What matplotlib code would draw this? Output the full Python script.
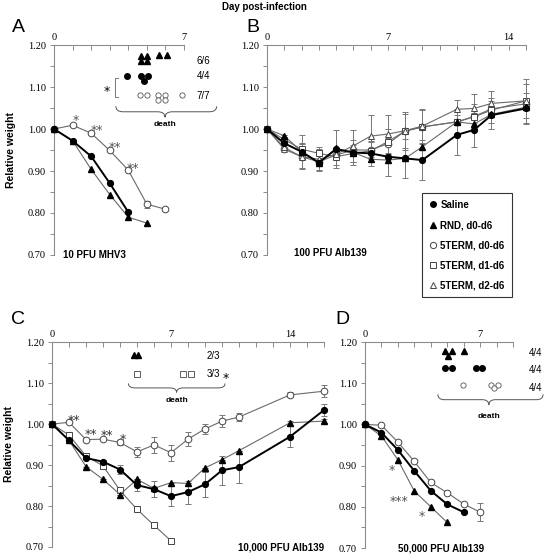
import numpy as np
import matplotlib
matplotlib.use("Agg")
import matplotlib.pyplot as plt
from matplotlib.path import Path
from matplotlib.patches import PathPatch
from matplotlib.lines import Line2D

# ---------------- data ----------------
# panel A: 10 PFU MHV3
daysA = [0, 1, 2, 3, 4, 5, 6]
A_saline = [1.00, 0.972, 0.935, 0.871, 0.802]
A_rnd = [1.00, 0.972, 0.904, 0.844, 0.790, 0.776]
A_5t0 = [1.00, 1.009, 0.990, 0.949, 0.902, 0.821, 0.809]
A_5t0_err = [0, 0, 0, 0, 0, 0.008, 0]

# panel B: 100 PFU Alb139
daysB = [0, 1, 2, 3, 4, 5, 6, 7, 8, 9, 11, 12, 13, 15]
B_saline = [1.00, 0.966, 0.946, 0.920, 0.952, 0.944, 0.942, 0.934, 0.930, 0.926, 0.986, 0.998, 1.033, 1.049]
B_rnd = [1.00, 0.984, 0.946, 0.918, 0.954, 0.944, 0.928, 0.926, 0.930, 0.958, 1.017, 1.012, 1.035, 1.052]
B_5t0 = [1.00, 0.952, 0.934, 0.922, 0.938, 0.950, 0.950, 0.965, 0.995, 1.005, 1.017, 1.030, 1.048, 1.060]
B_5t1 = [1.00, 0.975, 0.952, 0.942, 0.934, 0.942, 0.948, 0.970, 0.995, 1.005, 1.017, 1.029, 1.045, 1.067]
B_5t2 = [1.00, 0.956, 0.934, 0.928, 0.940, 0.960, 0.983, 0.988, 0.996, 1.007, 1.047, 1.049, 1.061, 1.067]
B_saline_err = [0, 0.02, 0.04, 0.02, 0.045, 0.03, 0.03, 0.045, 0.047, 0.047, 0.048, 0.04, 0.033, 0.037]
B_5t2_err = [0, 0.01, 0.03, 0.025, 0.01, 0.038, 0.05, 0.045, 0.045, 0.04, 0.022, 0.034, 0.029, 0.053]
B_5t1_err = [0, 0.01, 0.015, 0.015, 0.02, 0.02, 0.02, 0.03, 0.04, 0.04, 0.03, 0.03, 0.03, 0.04]

# panel C: 10,000 PFU Alb139
daysC = [0, 1, 2, 3, 4, 5, 6, 7, 8, 9, 10, 11, 14, 16]
C_saline = [1.00, 0.960, 0.917, 0.908, 0.889, 0.851, 0.841, 0.824, 0.834, 0.853, 0.887, 0.895, 0.969, 1.034]
C_rnd = [1.00, 0.960, 0.896, 0.865, 0.828, 0.865, 0.843, 0.857, 0.855, 0.893, 0.913, 0.935, 1.003, 1.007]
C_5t0 = [1.00, 1.004, 0.962, 0.963, 0.955, 0.932, 0.949, 0.930, 0.963, 0.988, 1.007, 1.017, 1.071, 1.080]
C_5t1 = [1.00, 0.973, 0.922, 0.898, 0.838, 0.792, 0.753, 0.715]
C_saline_err = [0, 0, 0, 0.003, 0.01, 0.015, 0.02, 0.025, 0.028, 0.03, 0.035, 0.04, 0.026, 0.015]
C_rnd_err = [0, 0, 0, 0, 0, 0, 0, 0, 0, 0, 0, 0, 0.005, 0.005]
C_5t0_err = [0, 0, 0, 0, 0.005, 0.012, 0.02, 0.02, 0.017, 0.012, 0.015, 0.01, 0.006, 0.015]

# panel D: 50,000 PFU Alb139
daysD = [0, 1, 2, 3, 4, 5, 6, 7]
D_saline = [1.00, 0.980, 0.938, 0.887, 0.839, 0.806, 0.787]
D_rnd = [1.00, 0.972, 0.914, 0.838, 0.800, 0.762]
D_5t0 = [1.00, 0.998, 0.957, 0.910, 0.859, 0.834, 0.807, 0.787]
D_5t0_err = [0, 0, 0, 0, 0, 0, 0, 0.022]

# deaths (day, row height)
A_dead_rnd = [(4.66, 1.174), (5.02, 1.174), (4.66, 1.161), (5.02, 1.161), (5.66, 1.176), (6.06, 1.176)]
A_dead_sal = [(3.91, 1.126), (4.66, 1.126), (5.07, 1.126), (4.86, 1.115)]
A_dead_5t0 = [(4.64, 1.080), (5.0, 1.080), (5.6, 1.082), (5.95, 1.082), (5.6, 1.068), (5.95, 1.068), (6.9, 1.080)]
C_dead_rnd = [(4.84, 1.168), (5.08, 1.168)]
C_dead_5t1 = [(5.0, 1.122), (7.72, 1.122), (8.2, 1.122)]
D_dead_rnd = [(4.86, 1.178), (5.3, 1.178), (5.06, 1.166), (6.02, 1.178)]
D_dead_sal = [(4.86, 1.136), (5.3, 1.136), (6.73, 1.136), (7.13, 1.136)]
D_dead_5t0 = [(5.98, 1.096), (7.64, 1.096), (8.09, 1.096), (7.85, 1.088)]

legend_labels = ["Saline", "RND, d0-d6", "5TERM, d0-d6", "5TERM, d1-d6", "5TERM, d2-d6"]

# ---------------- style ----------------
W, H = 544, 555
GRAY = "#6a6a6a"
SPINE = "#8c8c8c"
SANS = "Liberation Sans"
SERIF = "Liberation Serif"

fig = plt.figure(figsize=(W / 100, H / 100), dpi=100)


def box(l, r, t, b):
    return fig.add_axes([l / W, 1 - b / H, (r - l) / W, (b - t) / H])


def setup(ax, xmax, labels):
    ax.set_xlim(0, xmax)
    ax.set_ylim(0.70, 1.20)
    for s in ["bottom", "right"]:
        ax.spines[s].set_visible(False)
    for s in ["top", "left"]:
        ax.spines[s].set_color(SPINE)
        ax.spines[s].set_linewidth(0.8)
    ax.xaxis.tick_top()
    ax.set_xticks(labels)
    ax.set_xticklabels([str(v) for v in labels])
    ax.set_xticks(range(0, xmax + 1), minor=True)
    ax.set_yticks(np.arange(0.70, 1.201, 0.10))
    ax.set_yticklabels(["%.2f" % v for v in np.arange(0.70, 1.201, 0.10)])
    ax.set_yticks(np.arange(0.75, 1.2, 0.10), minor=True)
    ax.tick_params(axis="x", which="both", direction="in", color=SPINE, length=3.5, width=0.7,
                   pad=2, labelsize=7.5, labelfontfamily=SERIF)
    ax.tick_params(axis="y", which="both", direction="out", color=SPINE, length=3, width=0.7,
                   pad=3, labelsize=7.5, labelfontfamily=SERIF)
    ax.patch.set_alpha(0)


def series(ax, x, y, kind, err=None):
    x = x[:len(y)]
    if kind == "sal":
        kw = dict(color="black", lw=1.4, marker="o", ms=4.2, mfc="black", mec="black", zorder=5)
    elif kind == "rnd":
        kw = dict(color=GRAY, lw=0.8, marker="^", ms=4.8, mfc="black", mec="black", zorder=4)
    elif kind == "t0":
        kw = dict(color=GRAY, lw=0.8, marker="o", ms=4.8, mfc="white", mec="#444444", mew=0.7, zorder=3)
    elif kind == "t1":
        kw = dict(color=GRAY, lw=0.8, marker="s", ms=4.8, mfc="white", mec="#444444", mew=0.7, zorder=3)
    else:
        kw = dict(color=GRAY, lw=0.8, marker="^", ms=5, mfc="white", mec="#444444", mew=0.7, zorder=3)
    if err is not None:
        ax.errorbar(x, y, yerr=err[:len(y)], fmt="none", ecolor="#777777", elinewidth=0.7,
                    capsize=2, capthick=0.7, zorder=2, clip_on=False)
    ax.plot(x, y, clip_on=False, **kw)


def deaths(ax, pts, kind):
    xs = [p[0] for p in pts]
    ys = [p[1] for p in pts]
    if kind == "rnd":
        kw = dict(marker="^", ms=4.5, mfc="black", mec="black")
    elif kind == "sal":
        kw = dict(marker="o", ms=4, mfc="black", mec="black")
    elif kind == "t0":
        kw = dict(marker="o", ms=3.8, mfc="white", mec="#555555", mew=0.6)
    else:
        kw = dict(marker="s", ms=4, mfc="white", mec="#444444", mew=0.6)
    ax.plot(xs, ys, ls="none", clip_on=False, **kw)


def brace(ax, x0, x1, xm, y, h, dx):
    verts = [(x0, y + h), (x0, y), (x0 + dx, y), (xm - dx, y), (xm, y), (xm, y - h),
             (xm, y), (xm + dx, y), (x1 - dx, y), (x1, y), (x1, y + h)]
    codes = [Path.MOVETO, Path.CURVE3, Path.CURVE3, Path.LINETO, Path.CURVE3, Path.CURVE3,
             Path.CURVE3, Path.CURVE3, Path.LINETO, Path.CURVE3, Path.CURVE3]
    ax.add_patch(PathPatch(Path(verts, codes), fc="none", ec="#555555", lw=0.7, clip_on=False))


def star(ax, x, y, s, color="#555555"):
    ax.text(x, y - 0.008, s, ha="center", va="center", fontsize=9, color=color,
            family="DejaVu Sans", clip_on=False)


def lab(ax, x, y, s, **kw):
    ax.text(x, y, s, va="center", fontsize=7, family=SANS, clip_on=False, **kw)


# ---------------- panel A ----------------
axA = box(54, 184, 45, 255)
setup(axA, 7, [0, 7])
series(axA, daysA, A_rnd, "rnd")
series(axA, daysA, A_saline, "sal")
series(axA, daysA, A_5t0, "t0", A_5t0_err)
deaths(axA, A_dead_rnd, "rnd")
deaths(axA, A_dead_sal, "sal")
deaths(axA, A_dead_5t0, "t0")
lab(axA, 7.67, 1.162, "6/6")
lab(axA, 7.67, 1.126, "4/4")
lab(axA, 7.67, 1.079, "7/7")
brace(axA, 3.33, 8.76, 5.98, 1.041, 0.013, 0.4)
axA.text(5.98, 1.010, "death", ha="center", va="center", fontsize=6, weight="bold", family=SANS)
axA.plot([3.42, 3.28, 3.28, 3.42], [1.121, 1.121, 1.076, 1.076], color="#777777", lw=0.7)
star(axA, 2.85, 1.098, "*", "black")
star(axA, 1.18, 1.029, "*")
star(axA, 2.31, 1.005, "**")
star(axA, 3.28, 0.964, "**")
star(axA, 4.25, 0.914, "**")
axA.text(0.5, 0.70, "10 PFU MHV3", va="center", fontsize=7, weight="bold", family=SANS)
axA.set_ylabel("Relative weight", fontsize=7.5, weight="bold", family=SANS, labelpad=8)

# ---------------- panel B ----------------
axB = box(267, 526, 45, 255)
setup(axB, 15, [0, 7, 14])
series(axB, daysB, B_5t0, "t0")
series(axB, daysB, B_5t1, "t1", B_5t1_err)
series(axB, daysB, B_5t2, "t2", B_5t2_err)
series(axB, daysB, B_rnd, "rnd")
series(axB, daysB, B_saline, "sal", B_saline_err)
axB.text(1.55, 0.705, "100 PFU Alb139", va="center", fontsize=7, weight="bold", family=SANS)

# ---------------- panel C ----------------
axC = box(52, 324, 342, 547)
setup(axC, 16, [0, 7, 14])
series(axC, daysC, C_5t1, "t1")
series(axC, daysC, C_rnd, "rnd", C_rnd_err)
series(axC, daysC, C_saline, "sal", C_saline_err)
series(axC, daysC, C_5t0, "t0", C_5t0_err)
deaths(axC, C_dead_rnd, "rnd")
deaths(axC, C_dead_5t1, "t1")
lab(axC, 9.1, 1.166, "2/3")
lab(axC, 9.1, 1.122, "3/3")
star(axC, 10.25, 1.118, "*", "black")
brace(axC, 4.49, 10.18, 7.33, 1.088, 0.011, 0.4)
axC.text(7.33, 1.057, "death", ha="center", va="center", fontsize=6, weight="bold", family=SANS)
star(axC, 1.29, 1.016, "**", "#333333")
star(axC, 2.28, 0.983, "**", "#333333")
star(axC, 3.22, 0.979, "**", "#333333")
star(axC, 4.16, 0.969, "*", "#333333")
axC.text(16, 0.698, "10,000 PFU Alb139", ha="right", va="center", fontsize=7, weight="bold", family=SANS)
axC.set_ylabel("Relative weight", fontsize=7.5, weight="bold", family=SANS, labelpad=8)

# ---------------- panel D ----------------
axD = box(365, 513, 342, 548)
setup(axD, 9, [0, 7])
series(axD, daysD, D_rnd, "rnd")
series(axD, daysD, D_saline, "sal")
series(axD, daysD, D_5t0, "t0", D_5t0_err)
deaths(axD, D_dead_rnd, "rnd")
deaths(axD, D_dead_sal, "sal")
deaths(axD, D_dead_5t0, "t0")
for yy in [1.174, 1.132, 1.088]:
    lab(axD, 9.98, yy, "4/4")
brace(axD, 4.43, 10.83, 7.53, 1.060, 0.013, 0.4)
axD.text(7.53, 1.019, "death", ha="center", va="center", fontsize=6, weight="bold", family=SANS)
star(axD, 1.61, 0.897, "*")
star(axD, 2.06, 0.821, "***")
star(axD, 3.48, 0.784, "*")
axD.text(4.6, 0.698, "50,000 PFU Alb139", ha="center", va="center", fontsize=7, weight="bold", family=SANS)

# ---------------- legend ----------------
handles = [
    Line2D([], [], ls="none", marker="o", ms=4, mfc="black", mec="black"),
    Line2D([], [], ls="none", marker="^", ms=4.5, mfc="black", mec="black"),
    Line2D([], [], ls="none", marker="o", ms=4.5, mfc="white", mec="#444444", mew=0.7),
    Line2D([], [], ls="none", marker="s", ms=4.5, mfc="white", mec="#444444", mew=0.7),
    Line2D([], [], ls="none", marker="^", ms=4.8, mfc="white", mec="#444444", mew=0.7),
]
leg = fig.legend(handles, legend_labels, loc="upper left", bbox_to_anchor=(422 / W, 1 - 193 / H),
                 prop=dict(family=SANS, weight="bold", size=7), frameon=True, fancybox=False,
                 handlelength=0.8, handletextpad=0.4, labelspacing=1.05, borderpad=0.7,
                 borderaxespad=0)
leg.get_frame().set_edgecolor("black")
leg.get_frame().set_linewidth(0.8)

# ---------------- figure texts ----------------
def ftext(x, y, s, **kw):
    fig.text(x / W, 1 - y / H, s, ha="center", va="center", family=SANS, **kw)

ftext(264, 7, "Day post-infection", fontsize=7, weight="bold")
ftext(18, 27, "A", fontsize=14)
ftext(253, 27, "B", fontsize=14)
ftext(18, 319, "C", fontsize=14)
ftext(342, 319, "D", fontsize=14)

fig.savefig("out.png", dpi=100)
